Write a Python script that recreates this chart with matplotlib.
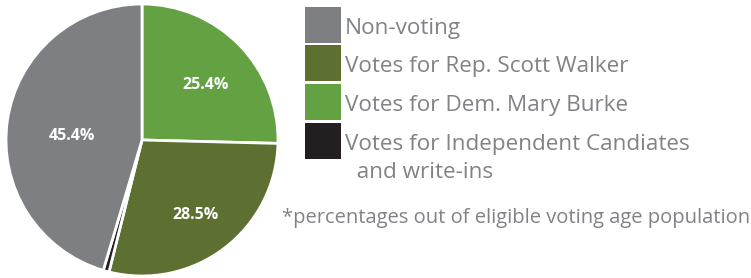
import matplotlib.pyplot as plt
from matplotlib.patches import Rectangle

# data
labels = ['Votes for Dem. Mary Burke', 'Votes for Rep. Scott Walker',
          'Votes for Independent Candiates\n  and write-ins', 'Non-voting']
shares = [25.4, 28.5, 0.7, 45.4]
colors = ['#63a143', '#5d7031', '#231f20', '#7e7f83']
legend_order = [3, 1, 0, 2]
note = '*percentages out of eligible voting age population'

plt.rcParams['font.family'] = ['Open Sans', 'DejaVu Sans']
text_grey = '#818286'

fig = plt.figure(figsize=(7.51, 2.78), dpi=100)
W, H = 751, 278

# pie axes: centre (142, 140), radius 135 px
cx, cy, r = 142, 140, 136
ax = fig.add_axes([(cx - r) / W, (H - cy - r) / H, 2 * r / W, 2 * r / H])

def fmt(p):
    return '%.1f%%' % p if p > 2 else ''

wedges, _, pct_texts = ax.pie(shares, colors=colors, startangle=90, counterclock=False,
                              autopct=fmt, pctdistance=0.64,
                              wedgeprops=dict(edgecolor='white', linewidth=2),
                              textprops=dict(color='white', fontsize=11.5, fontweight='bold'))
for t in pct_texts:
    t.set_va('center_baseline')
# pull the big slice's label a bit inwards
x, y = pct_texts[3].get_position()
pct_texts[3].set_position((x * 0.82, y * 0.82))
# nudge labels a few px down to match
for t in pct_texts:
    x, y = t.get_position()
    t.set_position((x + 1 / r, y - 4 / r))
ax.set_xlim(-1.0, 1.0)
ax.set_ylim(-1.0, 1.0)
ax.set_aspect('equal')

# legend
box_tops = [7, 45, 84, 123]
for row, i in enumerate(legend_order):
    top = box_tops[row]
    fig.patches.append(Rectangle((305 / W, 1 - (top + 36) / H), 36 / W, 36 / H,
                                 transform=fig.transFigure, facecolor=colors[i],
                                 edgecolor='none'))
    for k, line in enumerate(labels[i].split('\n')):
        fig.text(345 / W, 1 - (top + 27 + 28 * k) / H, line, fontsize=16.2,
                 color=text_grey, va='baseline', ha='left')

fig.text(282 / W, 1 - 223 / H, note, fontsize=14.5, color=text_grey,
         va='baseline', ha='left')

fig.savefig('out.png', dpi=100, facecolor='white')
